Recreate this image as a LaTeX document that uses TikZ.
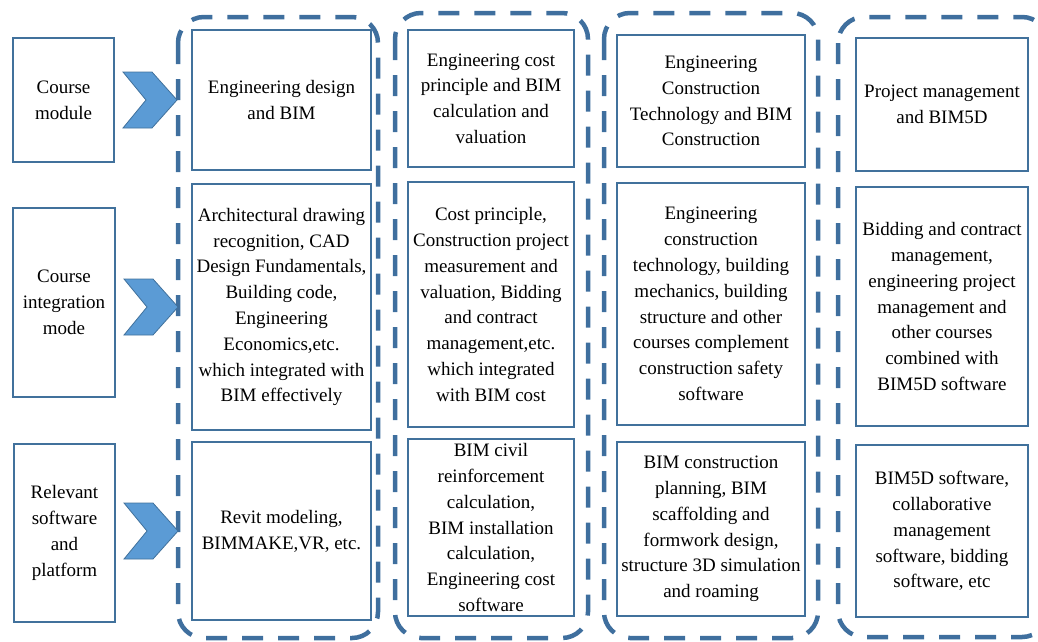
\documentclass[tikz,border=0pt]{standalone}
\usepackage{fontspec}
\setmainfont{Liberation Serif}
\definecolor{boxblue}{HTML}{41719C}
\definecolor{dashblue}{HTML}{3F6F9E}
\definecolor{chevblue}{HTML}{5B9BD5}
\begin{document}
\begin{tikzpicture}[x=1pt,y=-1pt,
  every node/.style={font=\fontsize{19}{25.8}\selectfont, align=center, inner sep=0pt},
  cell/.style={draw=boxblue, line width=2pt},
  group/.style={draw=dashblue, line width=4.5pt, dash pattern=on 21pt off 15pt, rounded corners=26pt},
  chevstyle/.style={fill=chevblue, draw=boxblue, line width=0.8pt, line join=miter},
  chev/.pic={\draw[chevstyle] (8,-28) -- (37,-28) -- (62,0) -- (37,28) -- (8,28) -- (31,0) -- cycle;}]
\useasboundingbox (0,0) rectangle (1038,641);

% dashed column groups
\draw[group] (178,17) rectangle (378,638);
\draw[group] (395,13) rectangle (588,638);
\draw[group] (604,13) rectangle (818,638);
\draw[group] (838,17) rectangle (1048,637);

% row headings
\node[cell, minimum width=101pt, minimum height=124pt] (l1) at (63.5,100) {Course\\module};
\node[cell, minimum width=102pt, minimum height=189pt] (l2) at (64,302.5) {Course\\integration\\mode};
\node[cell, minimum width=101pt, minimum height=178pt] (l3) at (64.5,533) {Relevant\\software\\and\\platform};

% column 1
\node[cell, minimum width=179pt, minimum height=140pt] (c11) at (281.5,100) {Engineering design\\and BIM};
\node[cell, minimum width=179pt, minimum height=246pt] (c12) at (281.5,307) {Architectural drawing\\recognition, CAD\\Design Fundamentals,\\Building code,\\Engineering\\Economics,etc.\\which integrated with\\BIM effectively};
\node[cell, minimum width=179pt, minimum height=178pt] (c13) at (281.5,531) {Revit modeling,\\BIMMAKE,VR, etc.};

% column 2
\node[cell, minimum width=166pt, minimum height=137pt] (c21) at (491,98.5) {Engineering cost\\principle and BIM\\calculation and\\valuation};
\node[cell, minimum width=166pt, minimum height=245pt] (c22) at (491,304.5) {Cost principle,\\Construction project\\measurement and\\valuation, Bidding\\and contract\\management,etc.\\which integrated\\with BIM cost};
\node[cell, minimum width=166pt, minimum height=177pt] (c23) at (491,527.5) {BIM civil\\reinforcement\\calculation,\\BIM installation\\calculation,\\Engineering cost\\software};

% column 3
\node[cell, minimum width=188pt, minimum height=132pt] (c31) at (711,101) {Engineering\\Construction\\Technology and BIM\\Construction};
\node[cell, minimum width=188pt, minimum height=242pt] (c32) at (711,304) {Engineering\\construction\\technology, building\\mechanics, building\\structure and other\\courses complement\\construction safety\\software};
\node[cell, minimum width=188pt, minimum height=174pt] (c33) at (711,529) {BIM construction\\planning, BIM\\scaffolding and\\formwork design,\\structure 3D simulation\\and roaming};

% column 4
\node[cell, minimum width=172pt, minimum height=133pt] (c41) at (942,104.5) {Project management\\and BIM5D};
\node[cell, minimum width=172pt, minimum height=239pt] (c42) at (942,306.5) {Bidding and contract\\management,\\engineering project\\management and\\other courses\\combined with\\BIM5D software};
\node[cell, minimum width=172pt, minimum height=172pt] (c43) at (942,531) {BIM5D software,\\collaborative\\management\\software, bidding\\software, etc};

% chevrons leading from each heading into the first column
\pic at (l1.east |- c11.center) {chev};
\pic at (l2.east |- c12.center) {chev};
\pic at (l3.east |- c13.center) {chev};
\end{tikzpicture}
\end{document}
